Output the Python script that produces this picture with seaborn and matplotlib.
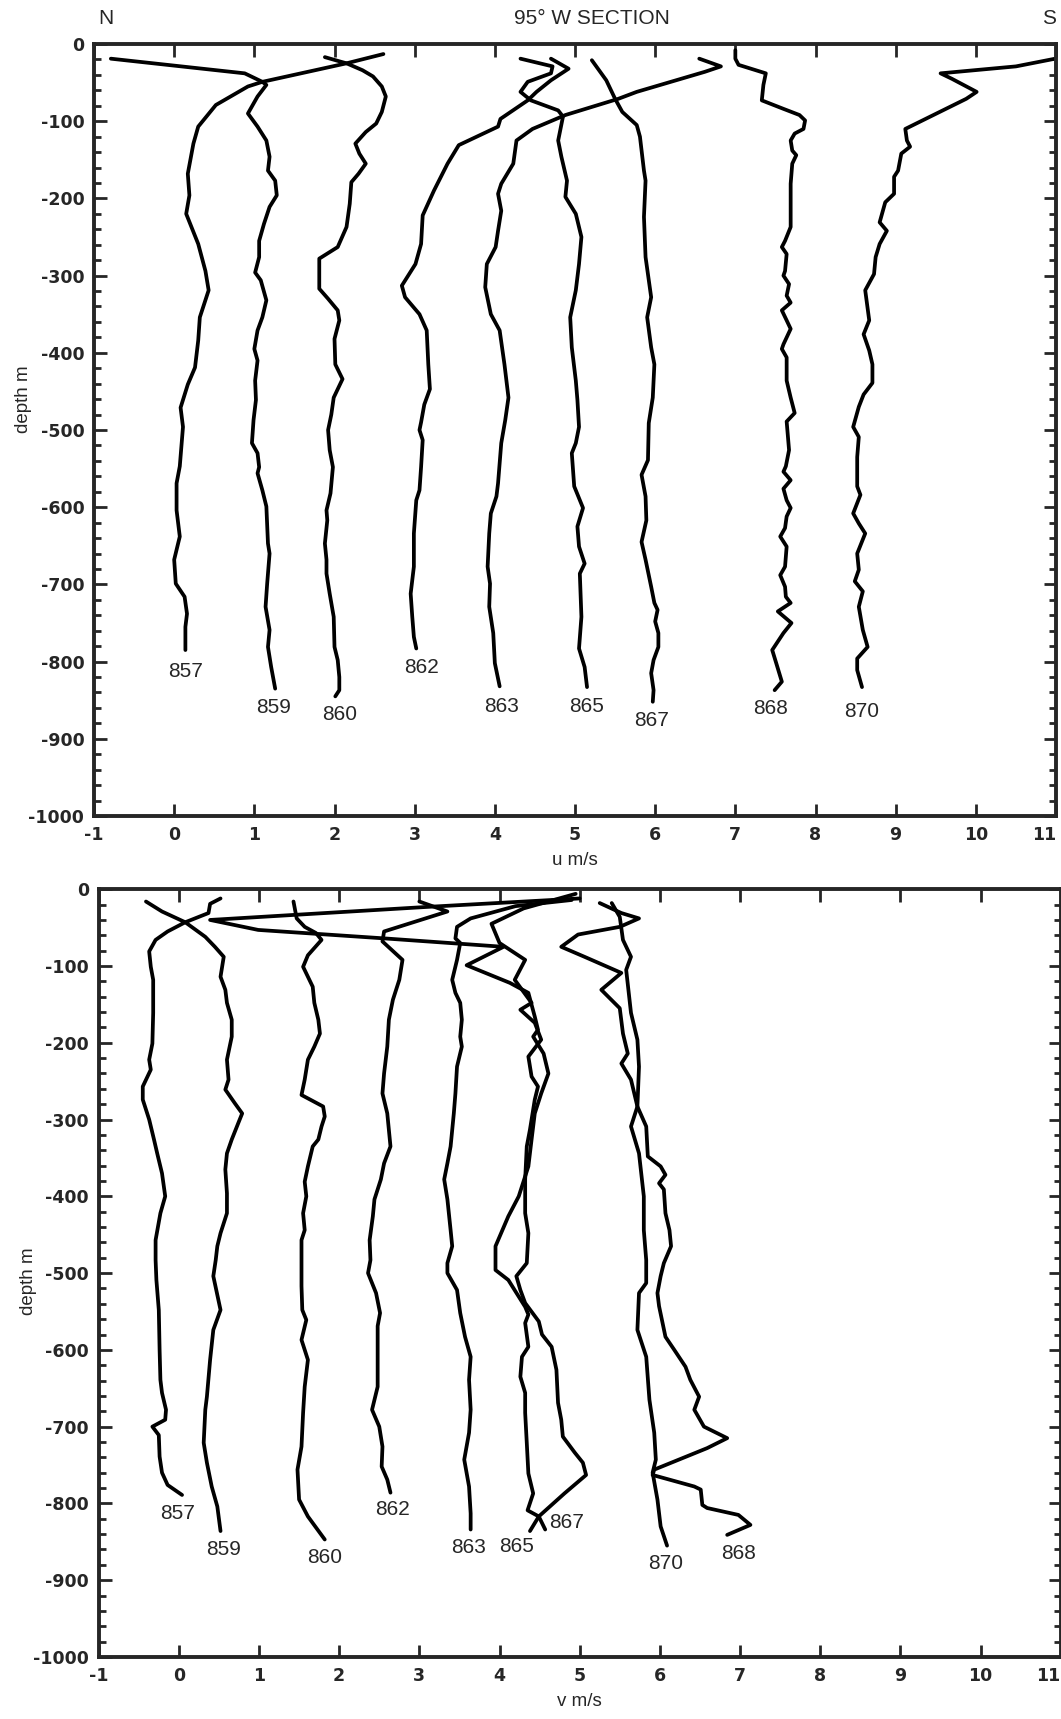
import matplotlib
matplotlib.use("Agg")
import matplotlib.pyplot as plt
import numpy as np
import pandas as pd
import seaborn as sns
from matplotlib.ticker import MultipleLocator

# ---------------- data (value m/s, depth m) ----------------
STATIONS = ["857", "859", "860", "862", "863", "865", "867", "868", "870"]

U857 = [(2.61,-13),(2.15,-25),(1.10,-49),(0.92,-55),(0.52,-79),(0.30,-107),(0.24,-129),(0.17,-168),(0.19,-196),(0.15,-220),(0.30,-259),(0.39,-294),(0.43,-319),(0.32,-354),(0.30,-384),(0.26,-419),(0.17,-441),(0.08,-471),(0.11,-496),(0.07,-547),(0.03,-569),(0.03,-604),(0.07,-638),(0.00,-668),(0.02,-699),(0.13,-716),(0.16,-738),(0.14,-755),(0.14,-785)]
U859 = [(-0.79,-19),(0.88,-38),(1.10,-49),(1.15,-53),(1.04,-68),(0.92,-90),(1.04,-107),(1.15,-125),(1.19,-146),(1.17,-164),(1.26,-177),(1.28,-196),(1.19,-211),(1.12,-233),(1.06,-255),(1.06,-276),(1.01,-296),(1.08,-306),(1.15,-332),(1.10,-354),(1.04,-371),(1.00,-395),(1.04,-410),(1.01,-436),(1.02,-461),(0.99,-487),(0.97,-517),(1.04,-530),(1.06,-548),(1.04,-556),(1.10,-578),(1.15,-599),(1.17,-647),(1.19,-660),(1.16,-699),(1.14,-729),(1.19,-759),(1.17,-781),(1.21,-807),(1.26,-835)]
U860 = [(1.88,-17),(2.08,-23),(2.15,-25),(2.35,-34),(2.48,-42),(2.59,-55),(2.64,-68),(2.59,-88),(2.52,-103),(2.39,-114),(2.26,-129),(2.31,-142),(2.39,-155),(2.30,-168),(2.21,-179),(2.19,-207),(2.15,-237),(2.04,-263),(1.81,-278),(1.81,-317),(1.92,-330),(2.04,-345),(2.06,-358),(2.00,-382),(2.01,-415),(2.10,-434),(1.99,-458),(1.96,-480),(1.92,-500),(1.94,-526),(1.98,-548),(1.95,-582),(1.90,-604),(1.91,-617),(1.88,-647),(1.90,-668),(1.90,-686),(1.94,-712),(1.99,-742),(2.00,-781),(2.04,-798),(2.06,-820),(2.06,-837),(2.01,-845)]
U862 = [(4.70,-19),(4.92,-32),(4.70,-47),(4.52,-62),(4.41,-73),(4.07,-97),(4.04,-107),(3.55,-131),(3.41,-155),(3.24,-190),(3.10,-222),(3.08,-259),(3.01,-285),(2.84,-313),(2.88,-328),(3.06,-350),(3.15,-371),(3.17,-415),(3.19,-447),(3.12,-467),(3.08,-490),(3.06,-500),(3.10,-513),(3.08,-548),(3.06,-578),(3.02,-591),(2.99,-634),(2.99,-677),(2.95,-712),(2.97,-742),(2.99,-768),(3.02,-783)]
U863 = [(6.55,-19),(6.82,-29),(6.62,-36),(5.77,-62),(5.54,-71),(4.88,-92),(4.47,-110),(4.27,-125),(4.23,-155),(4.08,-181),(4.04,-194),(4.08,-216),(4.04,-242),(4.01,-263),(3.90,-285),(3.88,-315),(3.95,-350),(4.06,-371),(4.12,-415),(4.17,-458),(4.13,-487),(4.08,-517),(4.04,-569),(4.02,-586),(3.95,-608),(3.93,-634),(3.91,-677),(3.94,-699),(3.93,-729),(3.98,-763),(4.00,-802),(4.06,-832)]
U865 = [(4.32,-19),(4.72,-29),(4.70,-38),(4.41,-49),(4.32,-62),(4.45,-73),(4.79,-86),(4.85,-94),(4.79,-125),(4.83,-146),(4.90,-177),(4.88,-198),(5.01,-220),(5.08,-250),(5.05,-285),(5.01,-319),(4.94,-354),(4.96,-393),(5.01,-436),(5.03,-461),(5.05,-496),(5.01,-517),(4.96,-530),(4.99,-573),(5.10,-601),(5.03,-625),(5.05,-651),(5.12,-673),(5.06,-686),(5.08,-742),(5.05,-783),(5.12,-807),(5.15,-833)]
U867 = [(5.21,-21),(5.39,-47),(5.50,-71),(5.59,-88),(5.77,-105),(5.81,-120),(5.86,-164),(5.88,-177),(5.86,-224),(5.88,-276),(5.95,-328),(5.90,-354),(5.95,-393),(5.99,-415),(5.97,-458),(5.92,-491),(5.91,-539),(5.83,-558),(5.88,-586),(5.89,-617),(5.83,-645),(5.88,-668),(5.95,-703),(5.99,-724),(6.03,-733),(6.00,-748),(6.04,-763),(6.04,-781),(5.98,-798),(5.95,-815),(5.98,-837),(5.97,-852)]
U868 = [(7.0,-8),(7.0,-19),(7.04,-27),(7.38,-38),(7.35,-53),(7.33,-73),(7.60,-84),(7.80,-92),(7.87,-99),(7.85,-110),(7.74,-116),(7.69,-125),(7.71,-138),(7.76,-144),(7.71,-155),(7.69,-181),(7.69,-216),(7.69,-237),(7.62,-255),(7.58,-263),(7.64,-272),(7.62,-294),(7.60,-300),(7.67,-311),(7.64,-326),(7.69,-335),(7.58,-345),(7.64,-358),(7.69,-369),(7.60,-389),(7.58,-395),(7.64,-406),(7.64,-436),(7.69,-458),(7.74,-478),(7.64,-489),(7.67,-526),(7.63,-547),(7.60,-554),(7.69,-565),(7.60,-576),(7.64,-591),(7.69,-601),(7.64,-612),(7.62,-627),(7.56,-638),(7.64,-651),(7.62,-677),(7.56,-688),(7.62,-703),(7.63,-716),(7.69,-724),(7.53,-735),(7.70,-750),(7.60,-763),(7.46,-785),(7.51,-802),(7.58,-826),(7.49,-837)]
U870 = [(11.2,-12),(10.99,-19),(10.5,-29),(9.56,-38),(9.70,-45),(10.01,-62),(9.88,-71),(9.12,-110),(9.14,-125),(9.18,-133),(9.07,-142),(9.03,-164),(8.98,-172),(8.98,-194),(8.87,-205),(8.80,-231),(8.89,-242),(8.80,-259),(8.75,-276),(8.73,-298),(8.62,-319),(8.67,-358),(8.60,-376),(8.67,-397),(8.71,-415),(8.71,-439),(8.60,-454),(8.54,-470),(8.47,-496),(8.54,-509),(8.52,-535),(8.52,-573),(8.56,-584),(8.47,-608),(8.54,-621),(8.62,-634),(8.52,-660),(8.54,-681),(8.49,-696),(8.59,-709),(8.54,-729),(8.59,-759),(8.65,-781),(8.52,-796),(8.52,-811),(8.58,-833)]

V857 = [(-0.41,-16),(-0.21,-29),(0.08,-43),(-0.14,-55),(-0.29,-66),(-0.37,-81),(-0.35,-101),(-0.32,-118),(-0.32,-161),(-0.33,-201),(-0.37,-222),(-0.35,-235),(-0.45,-257),(-0.45,-274),(-0.37,-300),(-0.31,-326),(-0.27,-344),(-0.21,-370),(-0.17,-400),(-0.23,-422),(-0.29,-457),(-0.29,-483),(-0.28,-509),(-0.25,-548),(-0.24,-600),(-0.23,-639),(-0.21,-656),(-0.16,-678),(-0.17,-691),(-0.33,-700),(-0.25,-711),(-0.24,-739),(-0.21,-760),(-0.14,-776),(0.04,-789)]
V859 = [(0.52,-12),(0.39,-19),(0.37,-31),(0.08,-43),(0.33,-62),(0.45,-75),(0.56,-88),(0.52,-114),(0.58,-131),(0.60,-148),(0.66,-170),(0.66,-192),(0.60,-222),(0.62,-248),(0.58,-261),(0.70,-279),(0.79,-292),(0.74,-305),(0.66,-326),(0.60,-344),(0.58,-365),(0.60,-396),(0.60,-422),(0.52,-448),(0.48,-465),(0.46,-483),(0.43,-504),(0.52,-548),(0.43,-574),(0.39,-613),(0.35,-661),(0.33,-678),(0.31,-721),(0.35,-747),(0.41,-778),(0.48,-804),(0.52,-836)]
V860 = [(1.43,-16),(1.47,-38),(1.57,-49),(1.71,-57),(1.78,-66),(1.61,-86),(1.55,-101),(1.61,-114),(1.67,-127),(1.69,-148),(1.74,-170),(1.76,-188),(1.69,-205),(1.61,-222),(1.57,-248),(1.53,-268),(1.80,-283),(1.82,-296),(1.78,-309),(1.74,-326),(1.67,-335),(1.61,-361),(1.57,-381),(1.59,-400),(1.55,-422),(1.57,-444),(1.53,-457),(1.53,-483),(1.53,-517),(1.54,-548),(1.59,-561),(1.53,-587),(1.61,-613),(1.57,-648),(1.55,-682),(1.53,-726),(1.48,-756),(1.50,-795),(1.61,-817),(1.82,-847)]
V862 = [(3.00,-16),(3.35,-29),(2.56,-55),(2.54,-68),(2.79,-92),(2.75,-118),(2.67,-144),(2.62,-170),(2.60,-205),(2.56,-240),(2.54,-266),(2.60,-292),(2.64,-335),(2.56,-357),(2.52,-378),(2.44,-404),(2.42,-426),(2.38,-457),(2.39,-483),(2.36,-500),(2.46,-526),(2.51,-552),(2.48,-569),(2.48,-648),(2.41,-678),(2.50,-700),(2.54,-726),(2.53,-752),(2.60,-769),(2.64,-786)]
V863 = [(4.90,-14),(4.20,-22),(3.64,-38),(3.47,-49),(3.45,-64),(3.51,-70),(3.47,-92),(3.41,-118),(3.45,-135),(3.51,-148),(3.53,-170),(3.51,-192),(3.53,-205),(3.47,-231),(3.45,-266),(3.43,-292),(3.39,-335),(3.35,-357),(3.31,-378),(3.35,-404),(3.39,-444),(3.41,-465),(3.35,-487),(3.35,-500),(3.47,-522),(3.51,-552),(3.57,-583),(3.64,-609),(3.62,-639),(3.64,-678),(3.62,-708),(3.56,-743),(3.62,-778),(3.64,-813),(3.64,-834)]
V865 = [(5.00,-12),(3.10,-23),(0.39,-40),(0.99,-53),(2.56,-64),(4.05,-75),(3.59,-99),(4.13,-122),(4.36,-135),(4.44,-166),(4.48,-183),(4.42,-192),(4.55,-214),(4.61,-240),(4.52,-266),(4.44,-292),(4.40,-326),(4.36,-361),(4.24,-400),(4.11,-426),(3.95,-465),(3.95,-496),(4.11,-509),(4.32,-544),(4.36,-554),(4.32,-565),(4.36,-596),(4.28,-609),(4.26,-635),(4.32,-656),(4.32,-682),(4.34,-721),(4.36,-761),(4.42,-787),(4.35,-809),(4.49,-817),(4.38,-836)]
V867 = [(4.95,-6),(4.30,-25),(3.90,-45),(4.00,-70),(4.32,-92),(4.19,-118),(4.40,-148),(4.26,-157),(4.44,-174),(4.52,-196),(4.36,-218),(4.40,-244),(4.48,-257),(4.44,-274),(4.38,-313),(4.34,-335),(4.32,-378),(4.32,-422),(4.36,-448),(4.34,-487),(4.21,-504),(4.26,-522),(4.32,-539),(4.49,-563),(4.53,-580),(4.65,-596),(4.71,-626),(4.73,-669),(4.77,-691),(4.79,-713),(4.94,-734),(5.04,-747),(5.08,-763),(4.81,-787),(4.49,-817),(4.57,-834)]
V868 = [(5.25,-18),(5.52,-31),(5.74,-38),(5.50,-49),(4.98,-59),(4.77,-75),(5.06,-88),(5.52,-109),(5.27,-131),(5.50,-155),(5.54,-188),(5.60,-214),(5.52,-227),(5.64,-248),(5.72,-283),(5.83,-309),(5.85,-348),(6.01,-361),(6.07,-372),(5.99,-383),(6.05,-391),(6.07,-422),(6.12,-444),(6.14,-465),(6.05,-487),(6.01,-504),(5.97,-526),(5.99,-543),(6.07,-583),(6.18,-600),(6.32,-622),(6.38,-639),(6.49,-661),(6.43,-678),(6.55,-700),(6.84,-715),(6.59,-728),(5.93,-756),(5.91,-763),(6.43,-778),(6.51,-782),(6.53,-802),(6.59,-806),(6.98,-815),(7.13,-828),(6.84,-841)]
V870 = [(5.40,-18),(5.50,-36),(5.54,-66),(5.64,-88),(5.58,-105),(5.64,-161),(5.72,-196),(5.74,-231),(5.72,-283),(5.64,-309),(5.74,-344),(5.80,-400),(5.80,-444),(5.83,-483),(5.83,-513),(5.74,-526),(5.72,-574),(5.83,-609),(5.87,-665),(5.93,-708),(5.95,-743),(5.91,-760),(5.97,-795),(6.01,-830),(6.09,-855)]

U_PROFILES = [U857, U859, U860, U862, U863, U865, U867, U868, U870]
V_PROFILES = [V857, V859, V860, V862, V863, V865, V867, V868, V870]

X_TICKS = list(range(-1, 12))
Y_TICKS = list(range(-1000, 1, 100))


def to_frame(profiles):
    rows = []
    for name, prof in zip(STATIONS, profiles):
        for i, (val, dep) in enumerate(prof):
            rows.append({"station": name, "order": i, "value": val, "depth": dep})
    return pd.DataFrame(rows)


sns.set_style("ticks")
plt.rcParams["font.family"] = ["Liberation Sans", "DejaVu Sans"]
plt.rcParams["axes.unicode_minus"] = False

fig = plt.figure(figsize=(10.61, 17.19), dpi=100)
ax1 = fig.add_axes([0.0886, 0.5253, 0.9067, 0.4491])
ax2 = fig.add_axes([0.0930, 0.0361, 0.9067, 0.4466])

# label offsets (dx, dy) relative to each profile's last point
U_LABEL_OFF = {"857": (0, -28), "859": (-0.02, -24), "860": (0.05, -24), "862": (0.06, -24),
               "863": (0.02, -26), "865": (0, -25), "867": (-0.02, -24), "868": (-0.05, -24),
               "870": (0, -32)}
V_LABEL_OFF = {"857": (-0.06, -24), "859": (0.04, -24), "860": (0, -24), "862": (0.03, -22),
               "863": (-0.02, -24), "865": (-0.17, -20), "867": (0.27, 9), "868": (0.14, -24),
               "870": (-0.02, -23)}


def draw(ax, profiles, xlabel, offs, ylab_y):
    df = to_frame(profiles)
    sns.lineplot(data=df, x="value", y="depth", units="station", estimator=None,
                 sort=False, color="black", linewidth=2.7, ax=ax, legend=False,
                 solid_joinstyle="round", solid_capstyle="round")
    for name, prof in zip(STATIONS, profiles):
        x0, y0 = prof[-1]
        dx, dy = offs[name]
        ax.text(x0 + dx, y0 + dy, name, ha="center", va="center", fontsize=15)
    ax.set_xlim(-1, 11)
    ax.set_ylim(-1000, 0)
    ax.set_xticks(X_TICKS)
    ax.set_xticklabels([str(t) for t in X_TICKS])
    ax.set_yticks(Y_TICKS)
    ax.set_yticklabels([str(t) for t in Y_TICKS])
    ax.yaxis.set_minor_locator(MultipleLocator(20))
    ax.tick_params(axis="both", which="major", direction="in", top=True, right=True,
                   length=9, width=2.0, labelsize=12.5, pad=7)
    ax.tick_params(axis="y", which="minor", direction="in", left=True, right=True,
                   length=5, width=2.0)
    for lab in ax.get_xticklabels() + ax.get_yticklabels():
        lab.set_fontweight("heavy")
        lab.set_family(["DejaVu Sans"])
    ax.get_xticklabels()[-1].set_horizontalalignment("right")
    for sp in ax.spines.values():
        sp.set_linewidth(2.8)
        sp.set_visible(True)
    ax.set_xlabel(xlabel, fontsize=13.5, labelpad=6)
    ax.set_ylabel("depth m", fontsize=13.5)
    ax.yaxis.set_label_coords(-0.064, ylab_y)


draw(ax1, U_PROFILES, "u m/s", U_LABEL_OFF, 0.54)
draw(ax2, V_PROFILES, "v m/s", V_LABEL_OFF, 0.49)

fig.text(106 / 1061, 1 - 19 / 1719, "N", ha="center", va="center", fontsize=15)
fig.text(592 / 1061, 1 - 19 / 1719, "95° W SECTION", ha="center", va="center", fontsize=15)
fig.text(1049 / 1061, 1 - 19 / 1719, "S", ha="center", va="center", fontsize=15)

fig.savefig("out.png", dpi=100)
